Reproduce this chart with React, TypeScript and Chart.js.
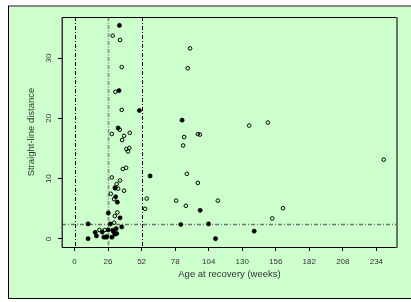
import React, { useEffect, useRef } from "react";
import { Chart, registerables } from "chart.js";

Chart.register(...registerables);

const xTicks = [0, 26, 52, 78, 104, 130, 156, 182, 208, 234];
const yTicks = [0, 10, 20, 30];

const filledAge = [34.8, 34.5, 50.3, 83.4, 33.8, 58.6, 31.4, 31.9, 33.2, 97.4, 26.2, 35.3, 10.5, 27.8, 82.4, 103.9, 36.6, 139.3, 10.5, 109.3, 16.0, 17.0, 21.5, 22.8, 24.4, 26.1, 29.0, 30.3, 31.4, 32.3, 32.7, 25.0, 29.6];
const filledDist = [35.4, 24.6, 21.3, 19.7, 18.4, 10.45, 8.5, 7.0, 6.1, 4.75, 4.3, 3.5, 2.5, 2.5, 2.4, 2.5, 2.0, 1.3, 0.05, 0.05, 1.1, 0.5, 1.15, 0.3, 0.3, 1.5, 0.3, 1.2, 0.8, 1.7, 0.9, 0.4, 1.45];

const openAge = [29.6, 35.3, 89.6, 87.8, 36.6, 31.7, 36.6, 149.9, 135.4, 35.1, 28.9, 42.8, 38.4, 95.6, 97.2, 85.0, 36.9, 84.2, 42.5, 40.2, 41.5, 239.7, 40.0, 37.4, 28.9, 87.1, 35.3, 95.6, 32.7, 33.8, 38.4, 28.1, 56.0, 30.7, 78.8, 111.1, 86.3, 54.7, 161.6, 33.2, 31.2, 153.3, 30.7, 19.3, 23.4, 31.5];
const openDist = [33.7, 33.0, 31.6, 28.3, 28.5, 24.4, 21.4, 19.3, 18.8, 18.1, 17.4, 17.6, 17.1, 17.4, 17.3, 16.9, 16.4, 15.5, 15.1, 14.9, 14.5, 13.15, 11.8, 11.6, 10.2, 10.8, 9.7, 9.3, 9.1, 8.35, 8.0, 7.5, 6.7, 6.6, 6.35, 6.35, 5.5, 5.0, 5.1, 4.4, 3.8, 3.4, 2.7, 1.5, 1.5, 8.4];

const vLines = [0, 26, 52];
const hLine = 2.5;

const FONT = '"Liberation Sans", Arial, Helvetica, sans-serif';
const TEXT = "#333333";

const framePlugin = {
  id: "frame",
  beforeDraw(chart: any) {
    const ctx = chart.ctx;
    ctx.save();
    ctx.fillStyle = "#ffffff";
    ctx.fillRect(0, 0, chart.width, chart.height);
    ctx.fillStyle = "#ccffcc";
    ctx.fillRect(8, 6, chart.width - 8, 292);
    ctx.strokeStyle = "#888888";
    ctx.lineWidth = 2;
    ctx.beginPath();
    ctx.moveTo(8, 6);
    ctx.lineTo(chart.width, 6);
    ctx.stroke();
    ctx.strokeStyle = "#000000";
    ctx.lineWidth = 1;
    ctx.beginPath();
    ctx.moveTo(8.5, 6);
    ctx.lineTo(8.5, 298.5);
    ctx.lineTo(chart.width, 298.5);
    ctx.stroke();
    ctx.restore();
  },
  beforeDatasetsDraw(chart: any) {
    const ctx = chart.ctx;
    const { left, right, top, bottom } = chart.chartArea;
    const xs = chart.scales.x;
    const ys = chart.scales.y;
    ctx.save();
    vLines.forEach((v) => {
      const px = Math.round(xs.getPixelForValue(v)) + 0.5;
      ctx.beginPath();
      if (v === 26) {
        ctx.strokeStyle = "#889988";
        ctx.lineWidth = 1.8;
        ctx.setLineDash([4, 1.5, 1, 1.5]);
      } else {
        ctx.strokeStyle = "#000000";
        ctx.lineWidth = 1;
        ctx.setLineDash([4, 2, 1, 2]);
      }
      ctx.moveTo(px, top);
      ctx.lineTo(px, bottom);
      ctx.stroke();
    });
    const py = Math.round(ys.getPixelForValue(hLine)) + 0.5;
    ctx.strokeStyle = "#667766";
    ctx.lineWidth = 1.5;
    ctx.setLineDash([4, 2, 1, 2]);
    ctx.beginPath();
    ctx.moveTo(left, py);
    ctx.lineTo(right, py);
    ctx.stroke();
    ctx.restore();
  },
  afterDraw(chart: any) {
    const ctx = chart.ctx;
    const { left, right, top, bottom } = chart.chartArea;
    ctx.save();
    ctx.strokeStyle = "#000000";
    ctx.lineWidth = 1;
    ctx.beginPath();
    ctx.moveTo(left, top + 0.5);
    ctx.lineTo(right, top + 0.5);
    ctx.moveTo(left, bottom + 0.5);
    ctx.lineTo(right, bottom + 0.5);
    ctx.stroke();
    ctx.strokeStyle = "#333333";
    ctx.lineWidth = 1.5;
    ctx.beginPath();
    ctx.moveTo(left + 0.25, top);
    ctx.lineTo(left + 0.25, bottom + 1);
    ctx.stroke();
    ctx.strokeStyle = "#667766";
    ctx.lineWidth = 2;
    ctx.beginPath();
    ctx.moveTo(right, top);
    ctx.lineTo(right, bottom + 1);
    ctx.stroke();
    ctx.restore();
  },
};

export default function App() {
  const ref = useRef<HTMLCanvasElement | null>(null);
  useEffect(() => {
    if (!ref.current) return;
    const chart = new Chart(ref.current, {
      type: "scatter",
      data: {
        datasets: [
          {
            label: "open",
            data: openAge.map((a, i) => ({ x: a, y: openDist[i] })),
            pointRadius: 1.8,
            pointBorderWidth: 1,
            pointBorderColor: "#000000",
            pointBackgroundColor: "rgba(0,0,0,0)",
            pointHoverRadius: 1.8,
          },
          {
            label: "filled",
            data: filledAge.map((a, i) => ({ x: a, y: filledDist[i] })),
            pointRadius: 2.1,
            pointBorderWidth: 0.6,
            pointBorderColor: "#000000",
            pointBackgroundColor: "#000000",
            pointHoverRadius: 2.1,
          },
        ],
      },
      options: {
        animation: false,
        responsive: false,
        maintainAspectRatio: false,
        layout: { padding: { left: 0, right: 14, top: 17, bottom: 0 } },
        plugins: { legend: { display: false }, tooltip: { enabled: false } },
        scales: {
          x: {
            type: "linear",
            min: -9.7,
            max: 250,
            afterBuildTicks: (s: any) => {
              s.ticks = xTicks.map((v) => ({ value: v }));
            },
            afterFit: (s: any) => {
              s.height = 55;
            },
            grid: { display: true, drawOnChartArea: false, drawTicks: true, tickLength: 4, tickColor: "#000000", color: "#000000" },
            border: { display: false },
            ticks: { autoSkip: false, maxRotation: 0, minRotation: 0, padding: 6, color: TEXT, font: { family: FONT, size: 8 } },
            title: { display: true, text: "Age at recovery (weeks)", color: TEXT, font: { family: FONT, size: 9.5 }, padding: { top: 22.3, bottom: 22.3 } },
          },
          y: {
            type: "linear",
            min: -1.33,
            max: 36.8,
            afterBuildTicks: (s: any) => {
              s.ticks = yTicks.map((v) => ({ value: v }));
            },
            afterFit: (s: any) => {
              s.width = 62;
            },
            grid: { display: true, drawOnChartArea: false, drawTicks: true, tickLength: 4, tickColor: "#000000", color: "#000000" },
            border: { display: false },
            ticks: { autoSkip: false, minRotation: 90, maxRotation: 90, crossAlign: "center", padding: 5, color: TEXT, font: { family: FONT, size: 8 } },
            title: { display: true, text: "Straight-line distance", color: TEXT, font: { family: FONT, size: 9.5 }, padding: { top: 25.3, bottom: 0 } },
          },
        },
      },
      plugins: [framePlugin],
    } as any);
    return () => chart.destroy();
  }, []);
  return (
    <div style={{ position: "absolute", left: 0, top: 0, width: 411, height: 302 }}>
      <canvas ref={ref} width={411} height={302} style={{ display: "block", width: 411, height: 302 }} />
    </div>
  );
}
